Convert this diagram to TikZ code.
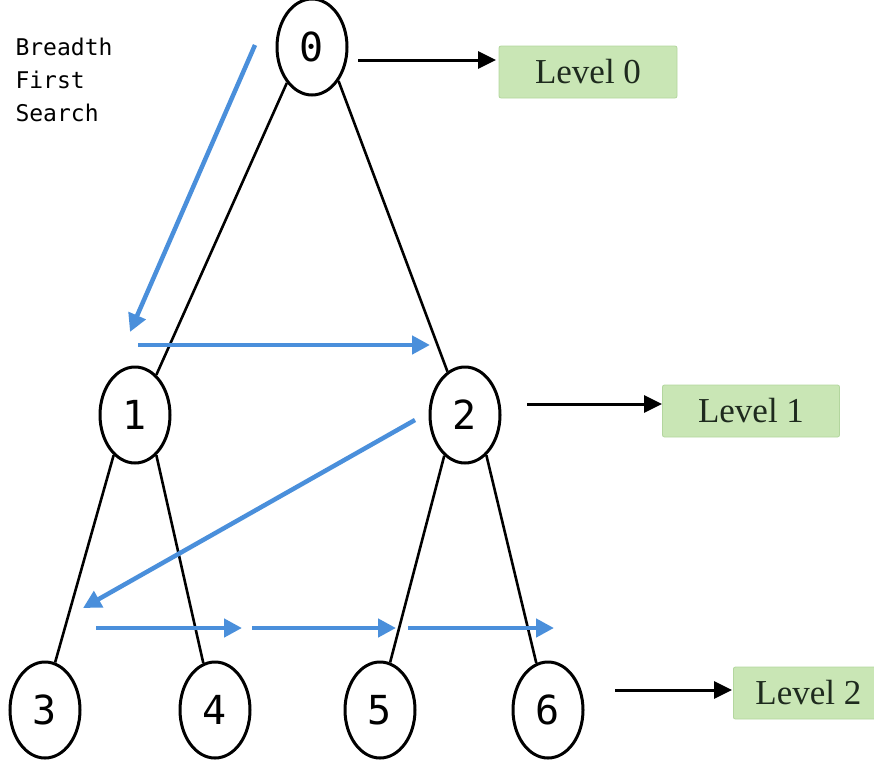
\documentclass[tikz,border=0pt]{standalone}
\usepackage{fontspec}
\setmainfont{Liberation Serif}
\newfontfamily\codefont{DejaVu Sans Mono}
\usetikzlibrary{shapes.geometric,arrows.meta}
\definecolor{bfsblue}{HTML}{4A8FDB}
\definecolor{lvlfill}{HTML}{C9E6B5}
\definecolor{lvldraw}{HTML}{B3D69E}
\definecolor{lvltext}{HTML}{1E2A1E}
\tikzset{
  vert/.style={ellipse, draw=black, line width=3pt, minimum width=70pt, minimum height=96pt, inner sep=0pt, font=\codefont\fontsize{40}{40}\selectfont},
  edge/.style={line width=2.6pt, black},
  trav/.style={line width=4.5pt, bfsblue, -{Triangle[length=18pt,width=18pt]}},
  lvlarrow/.style={line width=3pt, black, -{Triangle[length=18pt,width=17pt]}},
  lvlbox/.style={rectangle, rounded corners=2pt, fill=lvlfill, draw=lvldraw, line width=0.8pt, minimum height=52pt, text=lvltext, font=\fontsize{35}{35}\selectfont},
  label/.style={anchor=west, font=\codefont\fontsize{23}{23}\selectfont, text=black}
}
\begin{document}
\begin{tikzpicture}[x=1pt,y=-1pt]
\useasboundingbox (0,0) rectangle (874,763);
% text
\node[label] (t1) at (12,47) {Breadth};
\node[label] (t2) at (12,80) {First};
\node[label] (t3) at (12,113) {Search};
% vertices
\node[vert] (n0) at (312,47) {0};
\node[vert] (n1) at (135,415) {1};
\node[vert] (n2) at (465,415) {2};
\node[vert] (n3) at (45,710) {3};
\node[vert] (n4) at (215,710) {4};
\node[vert] (n5) at (380,710) {5};
\node[vert] (n6) at (548,710) {6};
% tree edges
\draw[edge] (n0.235) -- (n1.62);
\draw[edge] (n0.-52) -- (n2.112);
\draw[edge] (n1.242) -- (n3.78);
\draw[edge] (n1.-62) -- (n4.104);
\draw[edge] (n2.243) -- (n5.78);
\draw[edge] (n2.-62) -- (n6.104);
% level boxes
\node[lvlbox, minimum width=178pt] (L0) at (588,72) {Level 0};
\node[lvlbox, minimum width=177pt] (L1) at (751,411) {Level 1};
\node[lvlbox, minimum width=150pt, anchor=west] (L2) at (733,693) {Level 2};
% level arrows
\coordinate (a0s) at (358,60);
\coordinate (a0e) at (496,60);
\draw[lvlarrow] (a0s) -- (a0e);
\coordinate (a1s) at (527,404);
\coordinate (a1e) at (662,404);
\draw[lvlarrow] (a1s) -- (a1e);
\coordinate (a2s) at (615,690);
\coordinate (a2e) at (732,690);
\draw[lvlarrow] (a2s) -- (a2e);
% traversal
\coordinate (b0s) at (255,45);
\coordinate (b0e) at (130,332);
\draw[trav] (b0s) -- (b0e);
\coordinate (b1s) at (138,345);
\coordinate (b1e) at (430,345);
\draw[trav] (b1s) -- (b1e);
\coordinate (b2s) at (415,420);
\coordinate (b2e) at (83,608);
\draw[trav] (b2s) -- (b2e);
\coordinate (b3s) at (96,628);
\coordinate (b3e) at (242,628);
\draw[trav] (b3s) -- (b3e);
\coordinate (b4s) at (252,628);
\coordinate (b4e) at (396,628);
\draw[trav] (b4s) -- (b4e);
\coordinate (b5s) at (408,628);
\coordinate (b5e) at (554,628);
\draw[trav] (b5s) -- (b5e);
\end{tikzpicture}
\end{document}
